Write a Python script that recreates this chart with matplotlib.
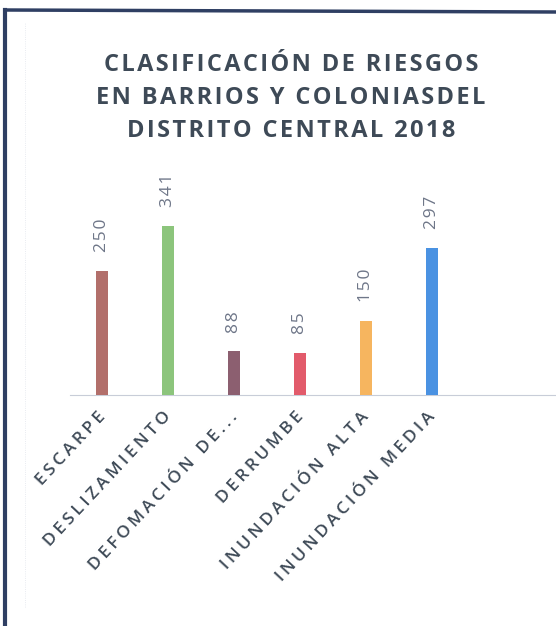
import numpy as np
import matplotlib
matplotlib.use('Agg')
import matplotlib.pyplot as plt
import matplotlib.transforms as mtransforms
from matplotlib.lines import Line2D

categories = ['ESCARPE', 'DESLIZAMIENTO', 'DEFOMACIÓN DE...', 'DERRUMBE',
              'INUNDACIÓN ALTA', 'INUNDACIÓN MEDIA']
values = [250, 341, 88, 85, 150, 297]
colors = ['#b26f6b', '#8cc57c', '#8c5f70', '#e25b6b', '#f6b55f', '#4a92e2']

title_col = '#3e4a57'
label_col = '#6e7688'
fam = ['Open Sans', 'DejaVu Sans']


def spaced(s, gap='\u200a'):
    # fake letter spacing with hair spaces
    return '\n'.join(gap.join(line) for line in s.split('\n'))


fig = plt.figure(figsize=(5.56, 6.26), dpi=100)
ax = fig.add_axes([70/556, 1 - 395/626, 486/556, 198/626])

x = np.arange(len(values))
ax.bar(x, values, width=0.19, color=colors, zorder=3)
ax.set_xlim(-0.485, 6.88)
ax.set_ylim(0, 400)

for xi, v in zip(x, values):
    ax.text(xi, v + 38, spaced(str(v)), rotation=90, ha='center', va='bottom',
            fontsize=12.5, color=label_col, family=fam)

ax.set_xticks(x)
ax.set_xticklabels([spaced(c, '\u2009') for c in categories], rotation=47, ha='right',
                   rotation_mode='anchor', fontsize=12.5, fontweight='semibold',
                   color=title_col, family=fam)
ax.tick_params(axis='x', length=0, pad=10)
off = mtransforms.ScaledTranslation(-5/100, 0, fig.dpi_scale_trans)
for lab in ax.get_xticklabels():
    lab.set_transform(lab.get_transform() + off)
ax.set_yticks([])
for s in ['top', 'right', 'left']:
    ax.spines[s].set_visible(False)
ax.spines['bottom'].set_color('#c8cdd8')
ax.spines['bottom'].set_linewidth(0.8)

fig.text(291/556, 1 - 98/626,
         spaced('CLASIFICACIÓN DE RIESGOS\nEN BARRIOS Y COLONIASDEL\nDISTRITO CENTRAL 2018'),
         ha='center', va='center', fontsize=17, fontweight='bold',
         color=title_col, family=fam, linespacing=1.5)

# scanned frame edges
fig.add_artist(Line2D([5/556, 5/556], [0, 1 - 10/626], color='#2f3f63', lw=3,
                      transform=fig.transFigure))
fig.add_artist(Line2D([5/556, 1], [1 - 10/626, 1 - 12/626], color='#2f3f63', lw=2.5,
                      transform=fig.transFigure))
fig.add_artist(Line2D([25/556, 25/556], [0.03, 1 - 22/626], color='#e2e5ec', lw=0.6,
                      ls=':', transform=fig.transFigure))

fig.savefig('out.png', dpi=100)
